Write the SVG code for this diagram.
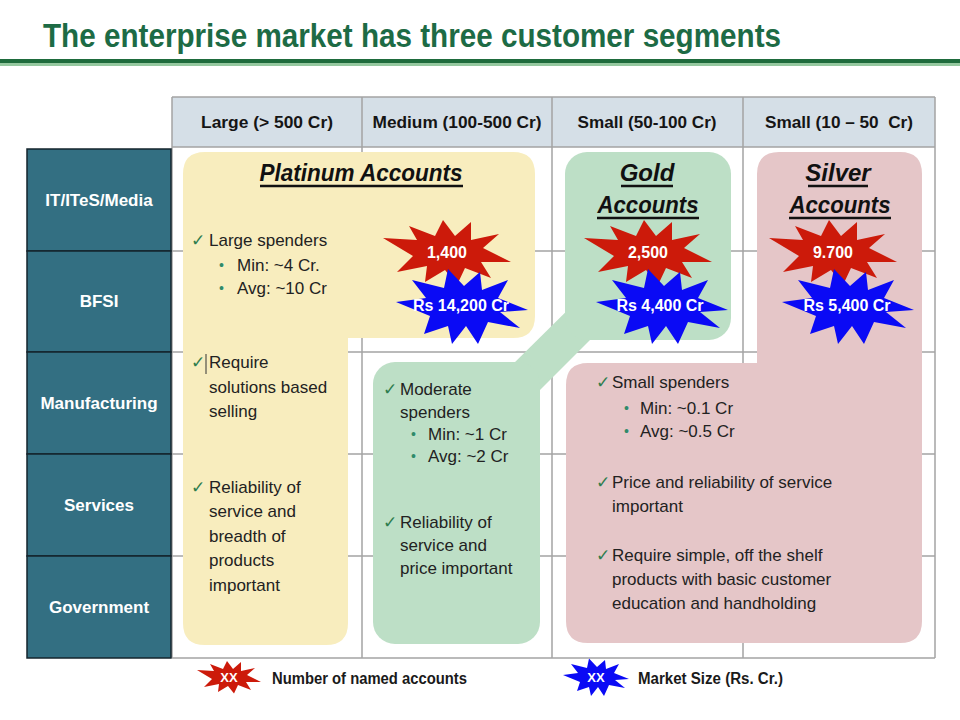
<svg xmlns="http://www.w3.org/2000/svg" width="960" height="720" viewBox="0 0 960 720">
<style>
text{font-family:"Liberation Sans",Arial,sans-serif}
.title{font-size:34px;font-weight:bold;fill:#1d6b45}
.hdr{font-size:17px;font-weight:bold;fill:#151515;text-anchor:middle}
.row{font-size:17px;font-weight:bold;fill:#ffffff;text-anchor:middle}
.grid{stroke:#a3a3a3;stroke-width:1.5;fill:none}
.seg{font-size:24px;font-weight:bold;font-style:italic;fill:#111;text-anchor:middle}
.ul{stroke:#111;stroke-width:2.5}
.b{font-size:17px;fill:#222}
.ck{font-family:"DejaVu Sans",sans-serif;font-size:17px;fill:#2e7d4e}
.dot{font-size:14px;fill:#2f8a6a}
.st{font-size:16px;font-weight:bold;fill:#ffffff;text-anchor:middle}
.lg{font-size:16px;font-weight:bold;fill:#1a1a1a}
.yel{fill:#f8edbe}
.grn{fill:#bddfc6}
.pnk{fill:#e5c6c8}
</style>
<defs>
<polygon id="redStar" fill="#cc1a0a" points="-64,-14 -30,-12 -38,-26 -12,-16 -4,-32 8,-16 24,-30 24,-12 52,-18 36,-4 64,10 34,10 44,26 18,16 10,33 -2,18 -22,30 -20,14 -50,20 -34,4"/>
<polygon id="blueStar" fill="#0a0af5" points="-66,-4 -36,-8 -50,-26 -18,-18 -14,-37 2,-20 18,-34 20,-16 46,-26 36,-8 66,4 38,6 58,22 26,16 16,38 4,20 -10,38 -14,20 -38,28 -32,10"/>
</defs>

<!-- title -->
<g id="title">
<text class="title" x="43" y="47" textLength="738" lengthAdjust="spacingAndGlyphs">The enterprise market has three customer segments</text>
<rect x="0" y="59" width="960" height="4" fill="#1e6b3c"/>
<rect x="0" y="63" width="960" height="3" fill="#95c89f"/>
</g>

<!-- header row -->
<g id="header">
<rect x="172" y="97" width="763" height="50" fill="#d5dfe7"/>
<text class="hdr" x="267" y="128" textLength="132" lengthAdjust="spacingAndGlyphs">Large (&gt; 500 Cr)</text>
<text class="hdr" x="457" y="128" textLength="169" lengthAdjust="spacingAndGlyphs">Medium (100-500 Cr)</text>
<text class="hdr" x="647" y="128" textLength="139" lengthAdjust="spacingAndGlyphs">Small (50-100 Cr)</text>
<text class="hdr" x="839" y="128" xml:space="preserve" textLength="148" lengthAdjust="spacingAndGlyphs">Small (10 – 50  Cr)</text>
</g>

<!-- grid -->
<g id="grid" class="grid">
<line x1="172" y1="97" x2="935" y2="97"/>
<line x1="172" y1="147" x2="935" y2="147"/>
<line x1="172" y1="251" x2="935" y2="251"/>
<line x1="172" y1="352" x2="935" y2="352"/>
<line x1="172" y1="454" x2="935" y2="454"/>
<line x1="172" y1="556" x2="935" y2="556"/>
<line x1="172" y1="658" x2="935" y2="658"/>
<line x1="172" y1="97" x2="172" y2="658"/>
<line x1="362" y1="97" x2="362" y2="658"/>
<line x1="552" y1="97" x2="552" y2="658"/>
<line x1="743" y1="97" x2="743" y2="658"/>
<line x1="935" y1="97" x2="935" y2="658"/>
</g>

<!-- left column -->
<g id="rows">
<g id="row-it"><rect x="27" y="149" width="144" height="102" fill="#336f82" stroke="#14252c" stroke-width="1.5"/><text class="row" x="99" y="206">IT/ITeS/Media</text></g>
<g id="row-bfsi"><rect x="27" y="251" width="144" height="101" fill="#336f82" stroke="#14252c" stroke-width="1.5"/><text class="row" x="99" y="307">BFSI</text></g>
<g id="row-mfg"><rect x="27" y="352" width="144" height="102" fill="#336f82" stroke="#14252c" stroke-width="1.5"/><text class="row" x="99" y="409">Manufacturing</text></g>
<g id="row-svc"><rect x="27" y="454" width="144" height="102" fill="#336f82" stroke="#14252c" stroke-width="1.5"/><text class="row" x="99" y="511">Services</text></g>
<g id="row-gov"><rect x="27" y="556" width="144" height="102" fill="#336f82" stroke="#14252c" stroke-width="1.5"/><text class="row" x="99" y="613">Government</text></g>
</g>

<!-- Platinum -->
<g id="platinum">
<path class="yel" d="M205,152 H513 Q535,152 535,174 V316 Q535,338 513,338 H348 V623 Q348,645 326,645 H205 Q183,645 183,623 V174 Q183,152 205,152 Z"/>
<text class="seg" x="361" y="181" textLength="203" lengthAdjust="spacingAndGlyphs">Platinum Accounts</text>
<line class="ul" x1="260" y1="186" x2="463" y2="186"/>
<text class="ck" x="191" y="246">✓</text><text class="b" x="209" y="246">Large spenders</text>
<text class="dot" x="219" y="270">•</text><text class="b" x="237" y="271">Min: ~4 Cr.</text>
<text class="dot" x="219" y="293">•</text><text class="b" x="237" y="294">Avg: ~10 Cr</text>
<text class="ck" x="191" y="368">✓</text><line x1="206" y1="354" x2="206" y2="374" stroke="#333" stroke-width="1"/>
<text class="b" x="209" y="368">Require</text>
<text class="b" x="209" y="393">solutions based</text>
<text class="b" x="209" y="417">selling</text>
<text class="ck" x="191" y="493">✓</text><text class="b" x="209" y="493">Reliability of</text>
<text class="b" x="209" y="517">service and</text>
<text class="b" x="209" y="542">breadth of</text>
<text class="b" x="209" y="566">products</text>
<text class="b" x="209" y="591">important</text>
<use href="#redStar" transform="translate(447,252)"/>
<text class="st" x="447" y="258">1,400</text>
<use href="#blueStar" transform="translate(462,306)"/>
<text class="st" x="461" y="311">Rs 14,200 Cr</text>
</g>

<!-- Gold -->
<g id="gold">
<polygon class="grn" points="500,377 590,288 630,300 530,400"/>
<rect class="grn" x="565" y="152" width="166" height="188" rx="22"/>
<rect class="grn" x="373" y="362" width="167" height="282" rx="22"/>
<text class="seg" x="647" y="181">Gold</text>
<line class="ul" x1="621" y1="186" x2="673" y2="186"/>
<text class="seg" x="648" y="213" textLength="101" lengthAdjust="spacingAndGlyphs">Accounts</text>
<line class="ul" x1="597" y1="218" x2="699" y2="218"/>
<use href="#redStar" transform="translate(648,252)"/>
<text class="st" x="648" y="258">2,500</text>
<use href="#blueStar" transform="translate(662,306)"/>
<text class="st" x="660" y="311">Rs 4,400 Cr</text>
<text class="ck" x="383" y="395">✓</text><text class="b" x="400" y="395">Moderate</text>
<text class="b" x="400" y="418">spenders</text>
<text class="dot" x="411" y="439">•</text><text class="b" x="428" y="440">Min: ~1 Cr</text>
<text class="dot" x="411" y="461">•</text><text class="b" x="428" y="462">Avg: ~2 Cr</text>
<text class="ck" x="383" y="528">✓</text><text class="b" x="400" y="528">Reliability of</text>
<text class="b" x="400" y="551">service and</text>
<text class="b" x="400" y="574">price important</text>
</g>

<!-- Silver -->
<g id="silver">
<path class="pnk" d="M779,152 H900 Q922,152 922,174 V621 Q922,643 900,643 H588 Q566,643 566,621 V385 Q566,363 588,363 H757 V174 Q757,152 779,152 Z"/>
<text class="seg" x="838" y="181">Silver</text>
<line class="ul" x1="808" y1="186" x2="868" y2="186"/>
<text class="seg" x="840" y="213" textLength="101" lengthAdjust="spacingAndGlyphs">Accounts</text>
<line class="ul" x1="789" y1="218" x2="891" y2="218"/>
<use href="#redStar" transform="translate(833,252)"/>
<text class="st" x="833" y="258">9.700</text>
<use href="#blueStar" transform="translate(848,306)"/>
<text class="st" x="847" y="311">Rs 5,400 Cr</text>
<text class="ck" x="596" y="388">✓</text><text class="b" x="612" y="388">Small spenders</text>
<text class="dot" x="624" y="413">•</text><text class="b" x="640" y="414">Min: ~0.1 Cr</text>
<text class="dot" x="624" y="436">•</text><text class="b" x="640" y="437">Avg: ~0.5 Cr</text>
<text class="ck" x="596" y="488">✓</text><text class="b" x="612" y="488">Price and reliability of service</text>
<text class="b" x="612" y="512">important</text>
<text class="ck" x="596" y="561">✓</text><text class="b" x="612" y="561">Require simple, off the shelf</text>
<text class="b" x="612" y="585">products with basic customer</text>
<text class="b" x="612" y="609">education and handholding</text>
</g>

<!-- legend -->
<g id="legend">
<use href="#redStar" transform="translate(229,677) scale(0.5)"/>
<text x="229" y="682" font-size="13" font-weight="bold" fill="#fff" text-anchor="middle">XX</text>
<text class="lg" x="272" y="684" textLength="195" lengthAdjust="spacingAndGlyphs">Number of named accounts</text>
<use href="#blueStar" transform="translate(596,677) scale(0.5)"/>
<text x="596" y="682" font-size="13" font-weight="bold" fill="#fff" text-anchor="middle">XX</text>
<text class="lg" x="638" y="684" textLength="145" lengthAdjust="spacingAndGlyphs">Market Size (Rs. Cr.)</text>
</g>
</svg>
